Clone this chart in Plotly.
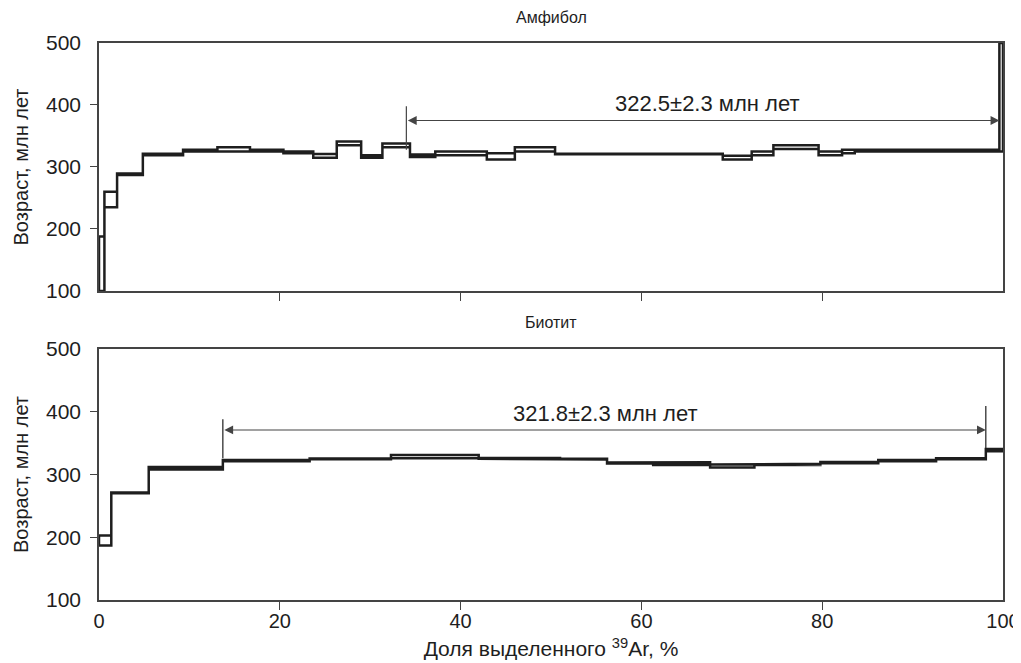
import plotly.graph_objects as go

# ---------------- data ----------------
# Amphibole: step edges (% 39Ar released) and age intervals (Ma)
amph_edges = [0, 0.6, 2.0, 4.85, 9.3, 13.1, 16.7, 20.4, 23.7, 26.3, 29.0, 31.35, 34.4,
              37.2, 40.1, 42.9, 46.0, 50.45, 56.8, 69.0, 72.2, 74.6, 79.6, 82.2, 83.6,
              91.1, 99.6, 100]
amph_low = [100, 235, 287, 319, 325, 325, 325, 322, 315, 335, 315, 332, 316, 319, 319,
            312, 325, 320.5, 320.5, 312, 319, 329, 319, 322, 325, 325, 325]
amph_high = [188, 260, 289.5, 321.5, 328, 332, 328, 325, 321, 341, 319, 338, 320, 325, 325,
             322, 332, 321.5, 321.5, 318, 325, 335, 325, 328, 328, 328, 500]

# Biotite
biot_edges = [0, 1.36, 5.5, 13.7, 23.3, 32.3, 42.0, 51.0, 56.2, 61.3, 67.6, 72.5, 79.8,
              86.2, 92.6, 98.1, 100]
biot_low = [187, 270, 308, 321, 324.5, 326, 325, 324, 317.5, 315, 311, 315, 318, 321,
            324.5, 337]
biot_high = [203, 271.5, 312, 323, 325.5, 331, 326.5, 325, 319, 319.5, 316, 317, 320,
             323, 326, 340.5]

# plateau annotations
amph_plateau = dict(start=34.0, end=99.6, arrow_y=375, mark_lo=328, mark_hi=398,
                    text="322.5±2.3 млн лет", text_x=67.3, text_y=403)
biot_plateau = dict(start=13.7, end=98.1, arrow_y=371, mark_lo=326, mark_hi=388,
                    mark_hi_end=409, text="321.8±2.3 млн лет", text_x=56.0, text_y=398)

panel_titles = ["Амфибол", "Биотит"]
x_ticks = [0, 20, 40, 60, 80, 100]
x_minor = [20, 40, 60, 80]
y_ticks = [100, 200, 300, 400, 500]
y_minor = [200, 300, 400]

FONT = "Liberation Sans, Arial, Helvetica, sans-serif"
INK = "#1e1e1e"
AX = "#444444"


def outline(edges, low, high):
    """Closed staircase band: upper envelope forward, lower envelope backward."""
    xs, ys = [], []
    n = len(low)
    for i in range(n):
        xs += [edges[i], edges[i + 1]]
        ys += [high[i], high[i]]
    for i in range(n - 1, -1, -1):
        xs += [edges[i + 1], edges[i]]
        ys += [low[i], low[i]]
    xs.append(edges[0])
    ys.append(high[0])
    return xs, ys


fig = go.Figure()

for (edges, low, high, xa, ya) in [(amph_edges, amph_low, amph_high, "x", "y"),
                                   (biot_edges, biot_low, biot_high, "x2", "y2")]:
    xs, ys = outline(edges, low, high)
    fig.add_trace(go.Scatter(x=xs, y=ys, mode="lines", xaxis=xa, yaxis=ya,
                             line=dict(color=INK, width=2.5), hoverinfo="skip",
                             showlegend=False))

# plateau markers
fig.add_trace(go.Scatter(x=[amph_plateau["start"], amph_plateau["start"]],
                         y=[amph_plateau["mark_lo"], amph_plateau["mark_hi"]],
                         mode="lines", line=dict(color=AX, width=1.2), xaxis="x", yaxis="y",
                         showlegend=False, hoverinfo="skip"))
fig.add_trace(go.Scatter(x=[biot_plateau["start"], biot_plateau["start"], None,
                            biot_plateau["end"], biot_plateau["end"]],
                         y=[biot_plateau["mark_lo"], biot_plateau["mark_hi"], None,
                            biot_plateau["mark_lo"], biot_plateau["mark_hi_end"]],
                         mode="lines", line=dict(color=INK, width=1.2), xaxis="x2", yaxis="y2",
                         showlegend=False, hoverinfo="skip"))

# empty traces for tick-only overlay axes
fig.add_trace(go.Scatter(x=[None], y=[None], xaxis="x3", yaxis="y3", showlegend=False))
fig.add_trace(go.Scatter(x=[None], y=[None], xaxis="x4", yaxis="y4", showlegend=False))

annotations = []
for p, xr, yr in [(amph_plateau, "x", "y"), (biot_plateau, "x2", "y2")]:
    annotations.append(dict(x=p["end"], y=p["arrow_y"], ax=p["start"], ay=p["arrow_y"],
                            xref=xr, yref=yr, axref=xr, ayref=yr, text="",
                            showarrow=True, arrowside="end+start", arrowhead=2,
                            arrowsize=1.6, arrowwidth=1.1, arrowcolor=AX, standoff=0,
                            startstandoff=0))
    annotations.append(dict(x=p["text_x"], y=p["text_y"], xref=xr, yref=yr,
                            text=p["text"], showarrow=False, yanchor="middle",
                            font=dict(family=FONT, size=22, color=INK)))

annotations.append(dict(x=0.5, y=1.0, xref="paper", yref="paper", yshift=26,
                        text=panel_titles[0], showarrow=False, yanchor="middle",
                        font=dict(family=FONT, size=16, color=INK)))
annotations.append(dict(x=0.5, y=0.4506, xref="paper", yref="paper", yshift=27,
                        text=panel_titles[1], showarrow=False, yanchor="middle",
                        font=dict(family=FONT, size=16, color=INK)))

tickfont = dict(family=FONT, size=21, color=INK)
titlefont = dict(family=FONT, size=20, color=INK)

base_x = dict(range=[0, 100], showline=True, linecolor=AX, linewidth=1.5, mirror=True,
              showgrid=False, zeroline=False, ticks="", tickvals=x_ticks, fixedrange=True,
              automargin=False)
base_y = dict(range=[100, 500], showline=True, linecolor=AX, linewidth=1.5, mirror=True,
              showgrid=False, zeroline=False, ticks="", tickvals=y_ticks,
              tickfont=tickfont, ticklabelstandoff=12, automargin=False,
              title=dict(text="Возраст, млн лет", font=titlefont, standoff=12))

top_dom = [0.5548, 1.0]
bot_dom = [0.0, 0.4506]

overlay = dict(showline=False, showgrid=False, zeroline=False, ticks="outside",
               tickwidth=1.3, tickcolor=AX, showticklabels=False, fixedrange=True,
               automargin=False)

# the page body adds an 8 px offset, so the figure is 8 px smaller than the window
fig.update_layout(
    width=1013, height=655,
    margin=dict(l=91, r=18, t=35, b=63, autoexpand=False),
    paper_bgcolor="white", plot_bgcolor="white",
    showlegend=False,
    xaxis=dict(base_x, domain=[0, 1], anchor="y", showticklabels=False),
    yaxis=dict(base_y, domain=top_dom, anchor="x"),
    xaxis2=dict(base_x, domain=[0, 1], anchor="y2", showticklabels=True,
                tickfont=dict(family=FONT, size=20, color=INK), ticklabelstandoff=2,
                title=dict(text="Доля выделенного <sup>39</sup>Ar, %",
                           font=dict(family=FONT, size=21, color=INK), standoff=11)),
    yaxis2=dict(base_y, domain=bot_dom, anchor="x2"),
    # tick-only overlay axes (ticks without labels at inner positions)
    xaxis3=dict(overlay, range=[0, 100], overlaying="x", anchor="y", side="bottom",
                ticklen=9, tickvals=x_minor),
    yaxis3=dict(overlay, range=[100, 500], overlaying="y", anchor="x", side="left",
                ticklen=8, tickvals=y_minor),
    xaxis4=dict(overlay, range=[0, 100], overlaying="x2", anchor="y2", side="bottom",
                ticklen=9, tickvals=x_minor),
    yaxis4=dict(overlay, range=[100, 500], overlaying="y2", anchor="x2", side="left",
                ticklen=8, tickvals=y_minor),
    annotations=annotations,
)

fig.write_html("out.html", config={"displayModeBar": False})
